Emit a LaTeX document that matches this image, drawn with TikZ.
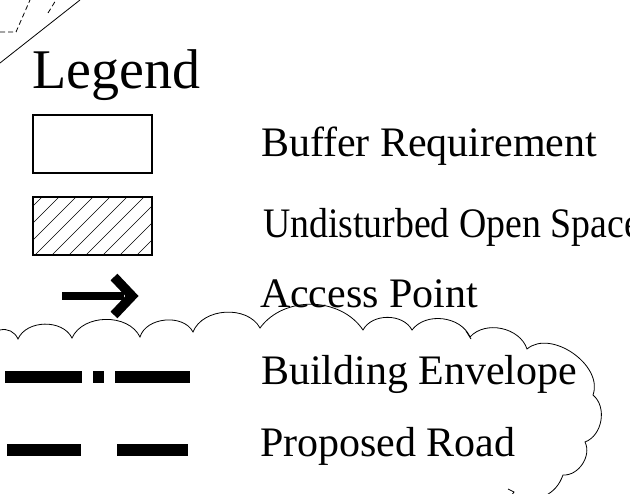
\documentclass[tikz,border=0pt]{standalone}
\usepackage{fontspec}
\setmainfont{Liberation Serif}
\begin{document}
\begin{tikzpicture}[x=1pt,y=1pt,
  lbl/.style={anchor=base west,inner sep=0pt,outer sep=0pt,font=\fontsize{42}{42}\selectfont},
  keybox/.style={draw=black,line width=1.3pt},
  thickbar/.style={line width=11.5pt,line cap=butt},
  cloudline/.style={line width=0.8pt},
  sketch/.style={line width=0.8pt}]
\useasboundingbox (0,0) rectangle (630,-494);
\clip (0,0) rectangle (630,-494);
\fill[white] (0,0) rectangle (630,-494);
% corner sketch lines
\draw[sketch] (0,-63) -- (80,0);
\draw[sketch,dashed,dash pattern=on 5pt off 3pt] (0,-32) -- (16,-32) -- (30,0);
\draw[sketch,dashed,dash pattern=on 5pt off 3pt] (48,-13) -- (56,0);
% title
\node[anchor=base west,inner sep=0pt,font=\fontsize{56}{56}\selectfont] (title) at (32,-89) {Legend};
% buffer box
\draw[keybox] (33,-115) rectangle (152,-173);
\node[inner sep=0pt] (bufbox) at (92.5,-144) {};
% hatched box
\begin{scope}
\clip (33,-197) rectangle (152,-255);
\foreach \k in {-4,...,7} {
  \draw[line width=0.7pt] ({35+17*\k},-255) -- ++(60,60);
}
\end{scope}
\draw[keybox] (33,-197) rectangle (152,-255);
\node[inner sep=0pt] (hatchbox) at (92.5,-226) {};
% access arrow
\coordinate (ashaftA) at (62,-296);
\coordinate (ashaftB) at (124,-296);
\draw[line width=8.5pt] (ashaftA) -- (ashaftB);
\draw[line width=9.5pt,line join=miter] (114,-277) -- (132,-296) -- (114,-315);
% building envelope
\draw[thickbar] (5,-377) -- (82,-377);
\draw[thickbar] (93,-377) -- (104,-377);
\draw[thickbar] (115,-377) -- (190,-377);
% proposed road
\draw[thickbar] (7,-450) -- (81,-450);
\draw[thickbar] (117,-450) -- (188,-450);
% cloud outline
\draw[cloudline] (0,-330) to[bend left=40] (18,-339)
  to[bend left=65] (72,-338)
  to[bend left=65] (140,-337)
  to[bend left=68] (193,-332)
  to[bend left=65] (260,-328)
  to[bend left=55] (363,-330)
  to[bend left=62] (412,-330)
  to[bend left=60] (470,-337)
  to[bend left=60] (527,-349)
  to[bend left=75] (593,-395)
  to[bend left=60] (585,-442)
  to[bend left=60] (563,-475)
  to[bend left=20] (545,-496);
\draw[cloudline] (466,-331) -- (471,-339);
\draw[cloudline] (508,-489) -- (514,-492) -- (511,-496);
% labels
\node[lbl] (buffer) at (261,-157) {Buffer Requirement};
\node[lbl,xscale=0.9] (open) at (263,-238) {Undisturbed Open Space};
\node[lbl] (access) at (260,-308) {Access Point};
\node[lbl] (envelope) at (261,-385) {Building Envelope};
\node[lbl] (road) at (260,-457) {Proposed Road};
\end{tikzpicture}
\end{document}
